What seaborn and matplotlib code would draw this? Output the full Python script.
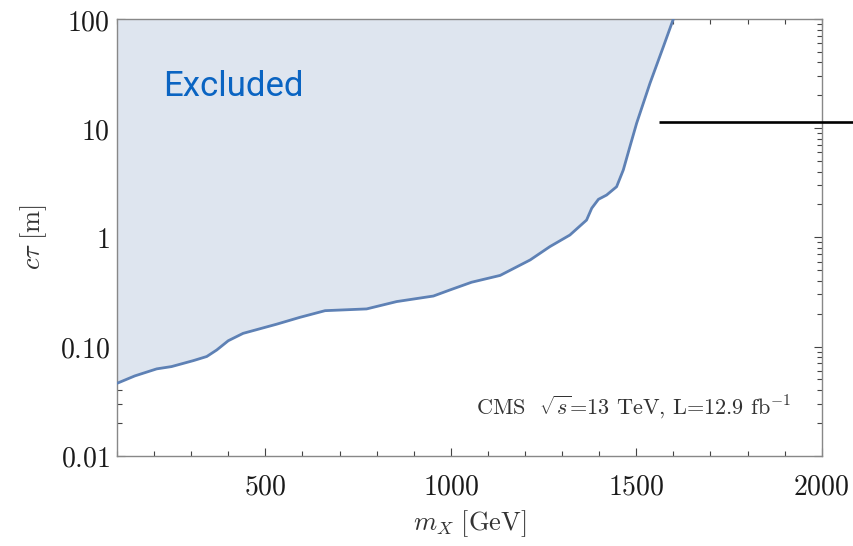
import matplotlib
matplotlib.use("Agg")
import matplotlib.pyplot as plt
import matplotlib.ticker as mticker
from matplotlib.lines import Line2D
import numpy as np
import pandas as pd
import seaborn as sns

# Exclusion boundary: mass (GeV) vs. proper decay length c*tau (m)
mass_gev = [100, 148, 207, 247, 306, 342, 369, 400, 440, 530, 593, 661, 773,
            854, 953, 998, 1056, 1133, 1214, 1267, 1321, 1366, 1380, 1398,
            1420, 1447, 1465, 1483, 1501, 1537, 1573, 1600]
ctau_m = [0.046, 0.0538, 0.0624, 0.0655, 0.0743, 0.081, 0.093, 0.113, 0.132,
          0.160, 0.185, 0.213, 0.221, 0.258, 0.29, 0.33, 0.388, 0.448, 0.621,
          0.822, 1.05, 1.44, 1.85, 2.23, 2.44, 2.91, 4.14, 6.8, 11.1, 25.8,
          55.7, 100]

y_ticks = [0.01, 0.1, 1, 10, 100]
y_tick_labels = ["0.01", "0.10", "1", "10", "100"]
x_ticks = [500, 1000, 1500, 2000]
x_tick_labels = ["500", "1000", "1500", "2000"]

line_color = "#5E81B5"
fill_color = "#DEE5EF"
label_color = "#0A64C2"

sns.set_theme(style="ticks")
plt.rcParams["mathtext.fontset"] = "cm"

df = pd.DataFrame({"mass": mass_gev, "ctau": ctau_m})

fig = plt.figure(figsize=(8.54, 5.46), dpi=100)
ax = fig.add_axes([0.137, 0.1654, 0.8252, 0.7998])

ax.fill_between(df["mass"], df["ctau"], 100, color=fill_color, lw=0, zorder=1)
sns.lineplot(data=df, x="mass", y="ctau", ax=ax, color=line_color, lw=2.0,
             sort=False, zorder=3)

ax.set_yscale("log")
ax.set_xlim(100, 2000)
ax.set_ylim(0.01, 100)

ax.yaxis.set_major_locator(mticker.FixedLocator(y_ticks))
ax.yaxis.set_major_formatter(mticker.FixedFormatter(
    [rf"$\mathrm{{{t}}}$" for t in y_tick_labels]))
ax.yaxis.set_minor_locator(mticker.LogLocator(base=10, subs=np.arange(2, 10)))
ax.yaxis.set_minor_formatter(mticker.NullFormatter())

ax.xaxis.set_major_locator(mticker.FixedLocator(x_ticks))
ax.xaxis.set_major_formatter(mticker.FixedFormatter(
    [rf"$\mathrm{{{t}}}$" for t in x_tick_labels]))
ax.xaxis.set_minor_locator(mticker.MultipleLocator(100))

ax.tick_params(which="both", direction="in", top=True, right=True,
               color="#444444", width=0.8, labelsize=20, labelcolor="#1a1a1a")
ax.tick_params(which="major", length=6)
ax.tick_params(which="minor", length=3.5)
ax.tick_params(axis="x", which="major", pad=12)
ax.tick_params(axis="y", which="major", pad=5)

for spine in ax.spines.values():
    spine.set_color("#888888")
    spine.set_linewidth(1.0)

ax.set_xlabel(r"$m_X\ [\mathrm{GeV}]$", fontsize=19, color="#333333", labelpad=6)
ax.set_ylabel(r"$c\tau\ [\mathrm{m}]$", fontsize=19, color="#333333", labelpad=8)

ax.text(0.165, 0.845, "Excluded", transform=ax.transAxes, fontsize=25,
        color=label_color, ha="center", va="center",
        family=["Roboto", "DejaVu Sans"])

ax.text(0.957, 0.111,
        r"CMS  $\sqrt{s}$=13 TeV, L=12.9 fb$^{-1}$",
        transform=ax.transAxes, fontsize=16, color="#333333",
        ha="right", va="center", family=["cmr10", "DejaVu Serif"])

# Horizontal marker running off the right edge of the figure
fig.add_artist(Line2D([0.772, 1.0], [0.777, 0.777], transform=fig.transFigure,
                      color="black", lw=1.9, solid_capstyle="butt"))

fig.savefig("out.png", dpi=100)
